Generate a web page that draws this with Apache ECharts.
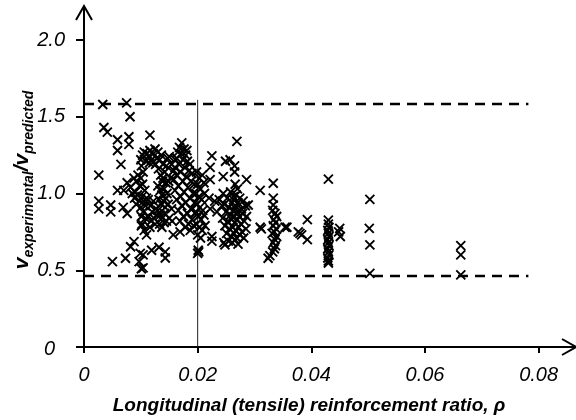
<!DOCTYPE html>
<html>
<head>
<meta charset="utf-8">
<script src="https://cdn.jsdelivr.net/npm/echarts@6/dist/echarts.min.js"></script>
<style>
  html, body { margin: 0; padding: 0; background: #fff; }
  #chart { width: 576px; height: 420px; }
</style>
</head>
<body>
<div id="chart"></div>
<script>
// Shear strength ratio v_exp / v_pred versus longitudinal reinforcement ratio rho.
// Each array holds [rho, ratio] pairs for one band of reinforcement ratios.
const lowRhoTests = [
  [0.0033,1.58],[0.0075,1.59],[0.0081,1.50],[0.0035,1.43],[0.0041,1.40],[0.0059,1.35],
  [0.0079,1.37],[0.0079,1.32],[0.0059,1.28],[0.0065,1.19],[0.0026,1.12],[0.0026,0.95],
  [0.0026,0.90],[0.0047,0.925],[0.0047,0.88],[0.0069,0.91],[0.0076,0.87],[0.0059,1.02],
  [0.0076,1.07],[0.0082,1.04],[0.0098,0.95],[0.0092,0.93],[0.0050,0.556],[0.0073,0.578],
  [0.0088,0.686],[0.0082,0.653],[0.0099,0.61],[0.0097,0.556],[0.0101,0.51],[0.0101,0.85],
  [0.0101,0.79],[0.0089,0.97],[0.0092,1.08],[0.0088,1.10],[0.0095,1.12],[0.0098,1.05],
  [0.0070,1.02],[0.0085,1.00],[0.0090,1.01],[0.0094,0.99]
];
const clusterNearOnePct = [
  [0.0100,1.22],[0.0103,1.25],[0.0106,1.27],[0.0101,1.18],[0.0104,1.14],[0.0100,1.10],
  [0.0103,1.06],[0.0107,1.02],[0.0102,0.98],[0.0105,0.95],[0.0100,0.91],[0.0104,0.88],
  [0.0108,0.84],[0.0102,0.80],[0.0106,0.76],[0.0110,0.73],[0.0109,1.21],[0.0111,1.26],
  [0.0108,0.92],[0.0110,0.97],[0.0116,1.38],
  [0.0113,1.24],[0.0116,1.28],[0.0119,1.22],[0.0122,1.26],[0.0125,1.29],[0.0128,1.23],
  [0.0115,1.20],[0.0121,1.20],[0.0126,1.19],
  [0.0113,0.96],[0.0117,0.92],[0.0120,0.88],[0.0114,0.85],[0.0118,0.82],[0.0123,0.84],
  [0.0126,0.90],[0.0122,0.95],[0.0125,0.80],[0.0116,0.78],[0.0128,0.86],
  [0.0130,1.27],[0.0133,1.22],[0.0136,1.25],[0.0139,1.19],[0.0131,1.16],[0.0135,1.12],
  [0.0138,1.08],[0.0142,1.14],[0.0130,1.05],[0.0134,1.02],[0.0137,0.99],[0.0141,1.03],
  [0.0144,1.07],[0.0132,0.96],[0.0136,0.93],[0.0140,0.95],[0.0143,0.91],[0.0130,0.89],
  [0.0134,0.86],[0.0138,0.84],[0.0142,0.87],[0.0145,0.82],[0.0133,0.80],[0.0137,0.78],
  [0.0141,0.81],[0.0146,1.00],[0.0144,0.97],[0.0139,1.10],[0.0145,1.18],[0.0147,1.23],
  [0.0150,1.24],[0.0154,1.19],[0.0158,1.15],[0.0152,1.10],[0.0161,1.22],[0.0149,1.08],
  [0.0150,0.84],[0.0154,0.90],[0.0148,0.93],[0.0155,0.82],
  [0.0119,0.63],[0.0132,0.65],[0.0143,0.62],[0.0143,0.58],[0.0104,0.60],[0.0104,0.515]
];
const clusterNearTwoPct = [
  [0.0172,1.33],[0.0168,1.30],[0.0176,1.29],[0.0165,1.27],[0.0171,1.26],[0.0179,1.25],
  [0.0163,1.23],[0.0174,1.22],[0.0182,1.21],[0.0167,1.19],[0.0160,1.17],[0.0177,1.17],
  [0.0185,1.15],[0.0170,1.14],[0.0163,1.12],[0.0180,1.11],[0.0158,1.09],[0.0174,1.08],
  [0.0188,1.08],[0.0166,1.05],[0.0183,1.04],[0.0160,1.02],[0.0176,1.01],[0.0192,1.00],
  [0.0170,0.98],[0.0186,0.97],[0.0163,0.96],[0.0179,0.94],[0.0195,0.94],[0.0172,0.92],
  [0.0188,0.90],[0.0166,0.89],[0.0182,0.87],[0.0197,0.88],[0.0175,0.85],[0.0190,0.83],
  [0.0169,0.82],[0.0184,0.80],[0.0178,0.78],[0.0193,0.79],[0.0157,0.73],[0.0169,0.75],
  [0.0187,0.76],[0.0181,1.28],[0.0186,1.19],[0.0190,1.13],[0.0194,1.06],
  [0.0198,1.14],[0.0203,1.10],[0.0208,1.12],[0.0200,1.06],[0.0205,1.03],[0.0211,1.07],
  [0.0197,1.00],[0.0202,0.98],[0.0207,0.96],[0.0212,1.00],[0.0199,0.93],[0.0204,0.91],
  [0.0209,0.89],[0.0196,0.87],[0.0201,0.85],[0.0206,0.83],[0.0211,0.86],[0.0198,0.80],
  [0.0203,0.78],[0.0208,0.76],[0.0200,0.73],[0.0205,0.71],[0.0213,0.79],[0.0201,0.63],
  [0.0200,0.61],[0.0202,0.62],
  [0.0225,1.245],[0.0222,1.17],[0.0222,1.09],[0.0245,1.11],[0.0249,1.21],[0.0257,1.22],
  [0.0265,1.18],[0.0265,1.14],[0.0269,1.34],[0.0286,1.09],[0.0220,0.97],[0.0230,0.95],
  [0.0222,0.90],[0.0234,0.88],[0.0225,0.72],[0.0225,0.69],[0.0246,0.68],[0.0248,0.665],
  [0.0238,0.96],[0.0243,0.92]
];
const clusterNearThreePct = [
  [0.0245,1.00],[0.0252,0.97],[0.0258,1.01],[0.0263,0.98],[0.0268,0.99],[0.0274,0.97],
  [0.0280,0.95],[0.0247,0.93],[0.0255,0.91],[0.0261,0.94],[0.0266,0.92],[0.0271,0.94],
  [0.0277,0.90],[0.0284,0.92],[0.0289,0.925],[0.0250,0.88],[0.0258,0.86],[0.0263,0.89],
  [0.0268,0.87],[0.0273,0.85],[0.0279,0.87],[0.0286,0.85],[0.0244,0.84],[0.0253,0.82],
  [0.0260,0.83],[0.0265,0.81],[0.0270,0.83],[0.0276,0.80],[0.0282,0.82],[0.0248,0.79],
  [0.0256,0.77],[0.0262,0.78],[0.0267,0.76],[0.0272,0.78],[0.0278,0.75],[0.0285,0.77],
  [0.0251,0.74],[0.0259,0.72],[0.0264,0.74],[0.0269,0.71],[0.0274,0.73],[0.0281,0.71],
  [0.0254,0.69],[0.0261,0.68],[0.0266,0.70],[0.0271,0.67],[0.0263,0.96],[0.0267,0.90],
  [0.0270,0.88],[0.0264,0.85],[0.0266,1.06],[0.0270,1.03],
  [0.0310,1.02],[0.0310,0.78],[0.0312,0.77]
];
const highRhoTests = [
  [0.0333,1.067],[0.0333,0.97],[0.0333,0.925],[0.0332,0.89],[0.0336,0.87],[0.0339,0.85],
  [0.0334,0.83],[0.0337,0.81],[0.0333,0.79],[0.0338,0.77],[0.0335,0.75],[0.0331,0.74],
  [0.0339,0.72],[0.0336,0.70],[0.0333,0.68],[0.0337,0.66],[0.0335,0.64],[0.0332,0.62],
  [0.0324,0.578],[0.0327,0.595],[0.0354,0.78],[0.0357,0.78],
  [0.0377,0.75],[0.0383,0.73],[0.0393,0.83],[0.0393,0.70],[0.0380,0.74],
  [0.0430,1.094],[0.0430,0.827],[0.0430,0.80],[0.0431,0.78],[0.0429,0.76],[0.0430,0.74],
  [0.0431,0.72],[0.0429,0.70],[0.0430,0.68],[0.0431,0.66],[0.0429,0.64],[0.0430,0.62],
  [0.0431,0.60],[0.0429,0.58],[0.0430,0.56],[0.0430,0.547],[0.0450,0.773],[0.0451,0.72],
  [0.0448,0.75],
  [0.0503,0.962],[0.0502,0.773],[0.0503,0.665],[0.0503,0.48],
  [0.0663,0.66],[0.0663,0.60],[0.0663,0.47]
];

// Reference limits drawn across the plot
const upperBound = 1.583;
const lowerBound = 0.4625;
const boundEndRho = 0.0782;
const dividerRho = 0.02;
const dividerTop = 1.61;

// Axis extents and tick labels
const X_MAX = 0.0864;
const Y_MAX = 2.215;
const xTicks = [0, 0.02, 0.04, 0.06, 0.08];
const yTicks = [0, 0.5, 1.0, 1.5, 2.0];
const xTitle = 'Longitudinal (tensile) reinforcement ratio, \u03c1';

const FONT = '"Liberation Sans", Arial, Helvetica, sans-serif';
const allTests = [].concat(lowRhoTests, clusterNearOnePct, clusterNearTwoPct,
                           clusterNearThreePct, highRhoTests);

const chart = echarts.init(document.getElementById('chart'), null, { renderer: 'canvas' });

const option = {
  animation: false,
  backgroundColor: '#fff',
  grid: { left: 84, right: 1, top: 7, bottom: 73, containLabel: false },
  xAxis: {
    type: 'value', min: 0, max: X_MAX,
    axisLine: { show: true, onZero: false, lineStyle: { color: '#000', width: 2 } },
    axisTick: { show: true, length: 6, customValues: xTicks, lineStyle: { color: '#000', width: 2 } },
    axisLabel: {
      show: true, customValues: xTicks, margin: 18,
      fontFamily: FONT, fontSize: 20, fontStyle: 'italic', color: '#000',
      formatter: v => (v === 0 ? '0' : v.toFixed(2))
    },
    splitLine: { show: false }
  },
  yAxis: {
    type: 'value', min: 0, max: Y_MAX,
    axisLine: { show: true, onZero: false, lineStyle: { color: '#000', width: 2 } },
    axisTick: { show: true, length: 8, customValues: yTicks, lineStyle: { color: '#000', width: 2 } },
    axisLabel: {
      show: true, customValues: yTicks, margin: 19,
      fontFamily: FONT, fontSize: 20, fontStyle: 'italic', color: '#000',
      formatter: v => (v === 0 ? '{z|0}' : v.toFixed(1)),
      rich: { z: { fontFamily: FONT, fontSize: 20, fontStyle: 'italic', color: '#000', padding: [4, 10, 0, 0] } }
    },
    splitLine: { show: false }
  },
  series: [
    {
      name: 'upper', type: 'line', symbol: 'none', silent: true, z: 3,
      lineStyle: { color: '#000', width: 2.5, type: [10, 7] },
      data: [[0, upperBound], [boundEndRho, upperBound]]
    },
    {
      name: 'lower', type: 'line', symbol: 'none', silent: true, z: 3,
      lineStyle: { color: '#000', width: 2.5, type: [10, 7] },
      data: [[0, lowerBound], [boundEndRho, lowerBound]]
    },
    {
      name: 'divider', type: 'line', symbol: 'none', silent: true, z: 2,
      lineStyle: { color: '#222', width: 1 },
      data: [[dividerRho, 0], [dividerRho, dividerTop]]
    },
    {
      name: 'tests', type: 'scatter', z: 4,
      symbol: 'path://M0 0L10 10M10 0L0 10',
      symbolSize: 9,
      itemStyle: { color: 'none', borderColor: '#000', borderWidth: 1.9, opacity: 1 },
      emphasis: { disabled: true },
      data: allTests
    }
  ]
};
chart.setOption(option);

// Open chevrons at the ends of both axes and the two axis titles
const tipY = chart.convertToPixel({ gridIndex: 0 }, [0, Y_MAX]);
const tipX = chart.convertToPixel({ gridIndex: 0 }, [X_MAX, 0]);
const arrowStyle = { stroke: '#000', lineWidth: 2, fill: 'none' };
chart.setOption({
  graphic: [
    {
      type: 'polyline', silent: true, z: 10,
      shape: { points: [[tipY[0] - 8, tipY[1] + 13], [tipY[0], tipY[1] - 1], [tipY[0] + 8, tipY[1] + 13]] },
      style: arrowStyle
    },
    {
      type: 'polyline', silent: true, z: 10,
      shape: { points: [[tipX[0] - 13, tipX[1] - 8], [tipX[0] + 1, tipX[1]], [tipX[0] - 13, tipX[1] + 8]] },
      style: arrowStyle
    },
    {
      type: 'text', silent: true, x: 309, y: 406,
      style: {
        text: xTitle, fontFamily: FONT, fontSize: 19, fontWeight: 'bold', fontStyle: 'italic',
        fill: '#000', align: 'center', verticalAlign: 'middle'
      }
    },
    {
      type: 'text', silent: true, x: 23, y: 180, rotation: Math.PI / 2,
      style: {
        text: '{v|v}{s|experimental}{v|/v}{s|predicted}',
        align: 'center', verticalAlign: 'middle',
        rich: {
          v: { fontFamily: FONT, fontSize: 21, fontWeight: 'bold', fontStyle: 'italic', fill: '#000',
               lineHeight: 22, verticalAlign: 'top' },
          s: { fontFamily: FONT, fontSize: 14, fontWeight: 'bold', fontStyle: 'italic', fill: '#000',
               lineHeight: 14, verticalAlign: 'top', padding: [10, 0, 0, 0] }
        }
      }
    }
  ]
});
</script>
</body>
</html>
